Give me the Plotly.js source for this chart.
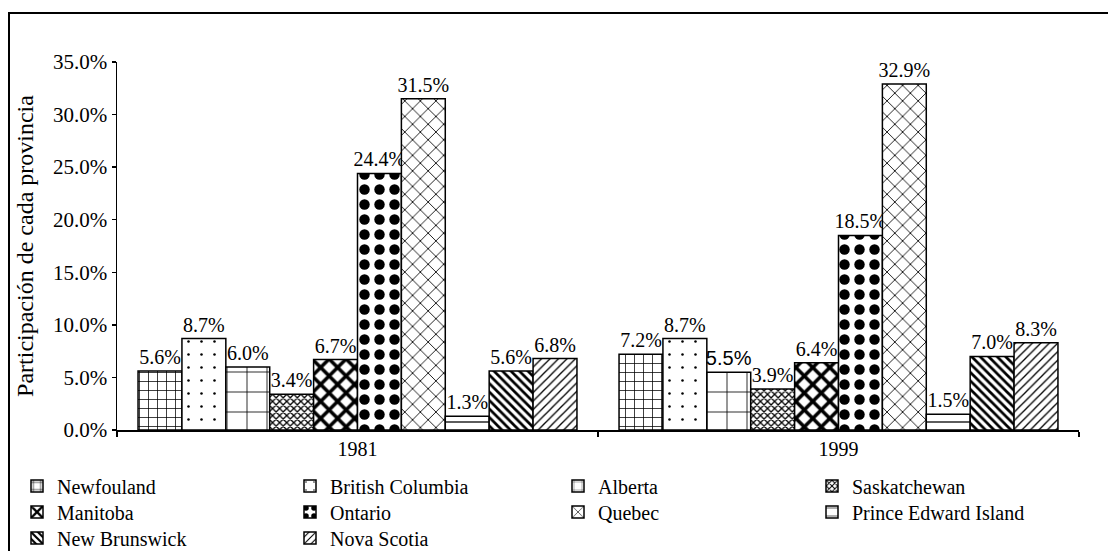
<!DOCTYPE html>
<html>
<head>
<meta charset="utf-8">
<script src="https://cdn.plot.ly/plotly-3.0.1.min.js"></script>
<style>
  html, body { margin: 0; padding: 0; background: #fff; }
  #wrap { position: relative; width: 1108px; height: 551px; overflow: hidden; }
  #chart { position: absolute; left: 0; top: 0; width: 1108px; height: 551px; }
  #frame { position: absolute; left: 8px; top: 12px; width: 1110px; height: 560px;
           border-top: 2px solid #000; border-left: 2px solid #000; pointer-events: none; }
</style>
</head>
<body>
<div id="wrap">
  <div id="chart"></div>
  <div id="frame"></div>
</div>
<script>
// ---- data ----
const years = ['1981', '1999'];
const provinces = ['Newfouland', 'British Columbia', 'Alberta', 'Saskatchewan', 'Manitoba',
                   'Ontario', 'Quebec', 'Prince Edward Island', 'New Brunswick', 'Nova Scotia'];
const newfouland = [5.6, 7.2];
const britishColumbia = [8.7, 8.7];
const alberta = [6.0, 5.5];
const saskatchewan = [3.4, 3.9];
const manitoba = [6.7, 6.4];
const ontario = [24.4, 18.5];
const quebec = [31.5, 32.9];
const princeEdwardIsland = [1.3, 1.5];
const newBrunswick = [5.6, 7.0];
const novaScotia = [6.8, 8.3];
const yTitle = 'Participación de cada provincia';

const seriesValues = [newfouland, britishColumbia, alberta, saskatchewan, manitoba,
                      ontario, quebec, princeEdwardIsland, newBrunswick, novaScotia];

// ---- styling ----
const patterns = [
  {shape: '+', size: 9, solidity: 0.16},
  {shape: '.', size: 13, solidity: 0.03},
  {shape: '+', size: 20, solidity: 0.08},
  {shape: 'x', size: 5, solidity: 0.45},
  {shape: 'x', size: 12, solidity: 0.5},
  {shape: '.', size: 15, solidity: 0.38},
  {shape: 'x', size: 11, solidity: 0.15},
  {shape: '-', size: 16, solidity: 0.08},
  {shape: '\\', size: 6, solidity: 0.45},
  {shape: '/', size: 6, solidity: 0.22}
];
// legend placement: column text-start (px) and row centre (px) for each province
const colX = [57, 330, 598, 852];
const rowY = [486, 512, 538];
const legColIdx = [0, 1, 2, 3, 0, 1, 2, 3, 0, 1];
const legRowIdx = [0, 0, 0, 0, 1, 1, 1, 1, 2, 2];

const W = 1108, H = 551;
const M = {l: 117, r: 29, t: 62, b: 121, autoexpand: false};
const pw = W - M.l - M.r, ph = H - M.t - M.b;
const FONT = 'Liberation Serif';

const traces = [];
const layout = {
  width: W, height: H,
  margin: M,
  paper_bgcolor: '#fff', plot_bgcolor: '#fff',
  font: {family: FONT, color: '#000', size: 20},
  barmode: 'group',
  bargap: 0.0875,
  bargroupgap: 0,
  showlegend: true,
  xaxis: {
    type: 'category',
    showline: true, linecolor: '#000', linewidth: 1.5,
    ticks: 'outside', ticklen: 5, tickwidth: 1.5, tickcolor: '#000',
    tickson: 'boundaries',
    showgrid: false, zeroline: false,
    automargin: false,
    tickfont: {family: FONT, size: 20, color: '#000'}
  },
  yaxis: {
    range: [0, 35], dtick: 5, tick0: 0,
    tickformat: '.1f', ticksuffix: '%',
    showline: true, linecolor: '#000', linewidth: 1.5,
    ticks: 'outside', ticklen: 4, tickwidth: 1.5, tickcolor: '#000',
    showgrid: false, zeroline: false,
    automargin: false,
    tickfont: {family: FONT, size: 21, color: '#000'},
    title: {text: yTitle, font: {family: FONT, size: 24, color: '#000'}, standoff: 12}
  }
};

provinces.forEach((name, i) => {
  const legName = i === 0 ? 'legend' : 'legend' + (i + 1);
  const p = patterns[i];
  const fam = (name === 'Alberta') ? [FONT, 'Liberation Sans'] : FONT;
  traces.push({
    type: 'bar',
    name: name,
    x: years,
    y: seriesValues[i],
    legend: legName,
    marker: {
      color: '#fff',
      line: {color: '#000', width: 1.5},
      pattern: {shape: p.shape, size: p.size, solidity: p.solidity,
                fgcolor: '#000', bgcolor: '#fff', fillmode: 'replace'}
    },
    texttemplate: '%{y:.1f}%',
    textposition: 'outside',
    constraintext: 'none',
    textfont: {family: fam, size: 20, color: '#000'},
    cliponaxis: false,
    hoverinfo: 'skip'
  });
  layout[legName] = {
    x: (colX[legColIdx[i]] - 40 - M.l) / pw,
    y: (H - M.b - rowY[legRowIdx[i]]) / ph,
    xanchor: 'left', yanchor: 'middle',
    xref: 'paper', yref: 'paper',
    bgcolor: 'rgba(0,0,0,0)', borderwidth: 0,
    font: {family: FONT, size: 20, color: '#000'},
    itemwidth: 30
  };
});

Plotly.newPlot('chart', traces, layout, {staticPlot: true, displayModeBar: false});
</script>
</body>
</html>
